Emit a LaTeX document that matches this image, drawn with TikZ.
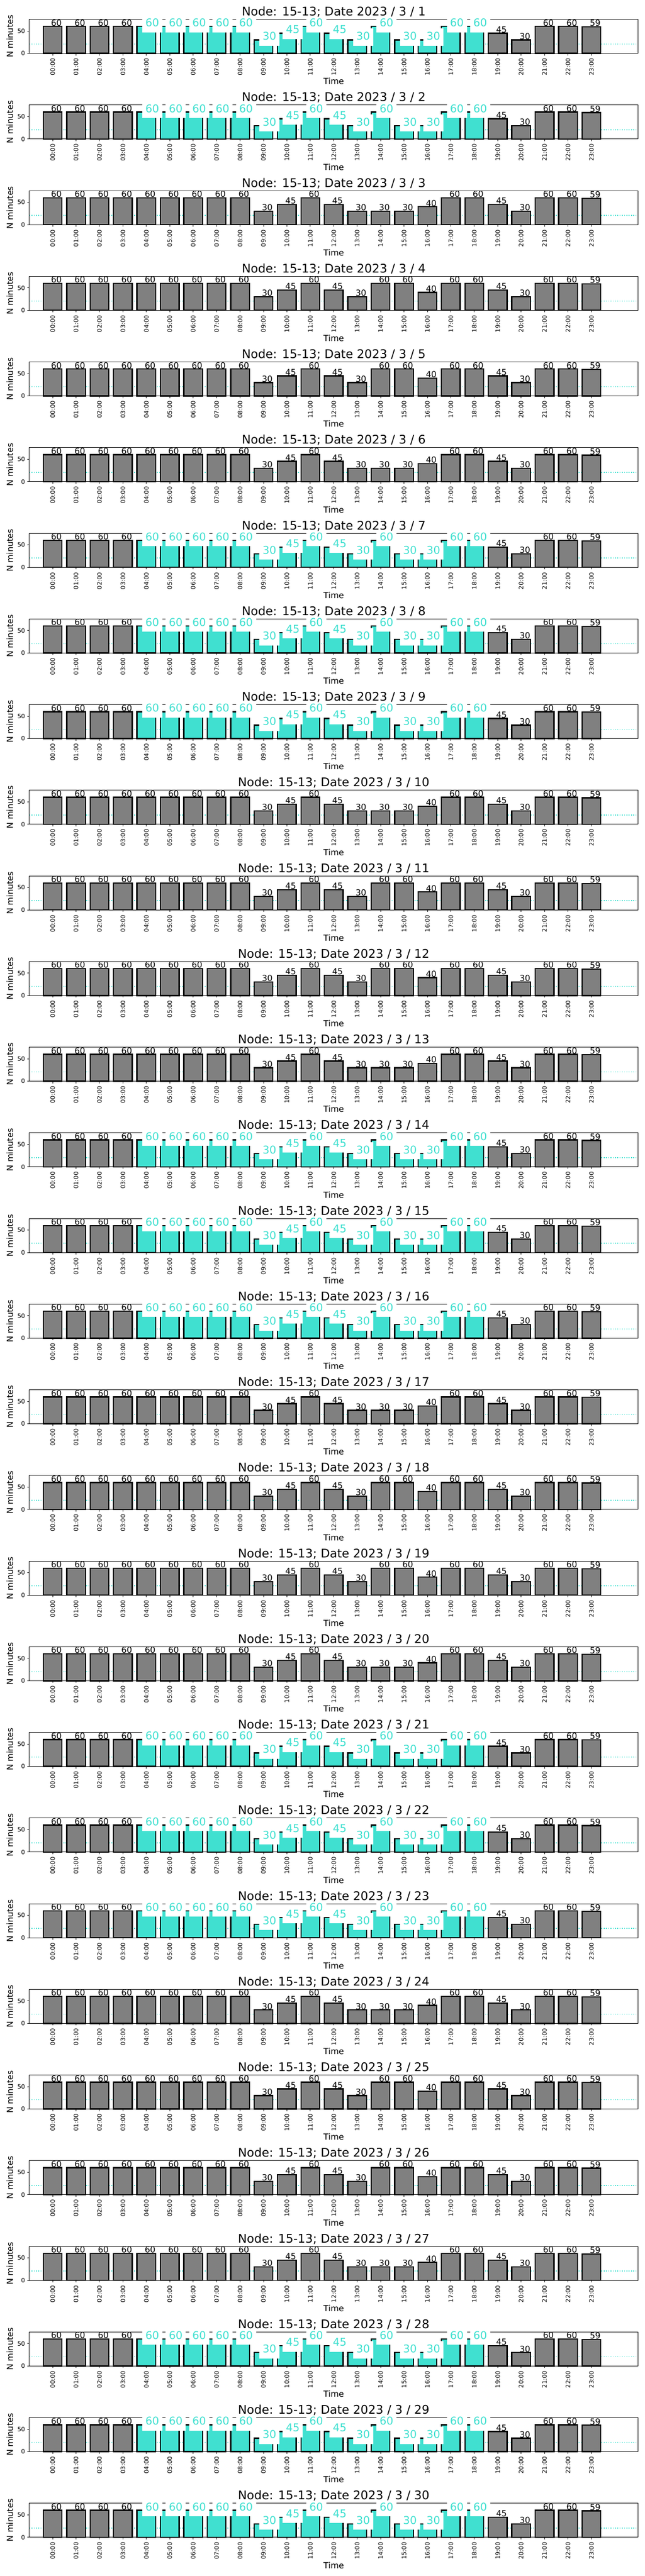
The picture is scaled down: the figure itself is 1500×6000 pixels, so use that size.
\documentclass[tikz,border=0pt]{standalone}
\usepackage{fontspec}
\setmainfont{DejaVu Sans}
\definecolor{tcol}{RGB}{64,224,208}
\definecolor{gcol}{RGB}{128,128,128}
\tikzset{every picture/.style={x=0.72bp,y=-0.72bp}}
\tikzset{barbox/.style={draw=black,line width=2bp}}
\tikzset{dotline/.style={tcol,line width=1.44bp,dash pattern=on 1.44bp off 2.38bp}}
\tikzset{axframe/.style={line width=0.8bp}}
\tikzset{tickmark/.style={line width=0.8bp}}
\tikzset{xlab/.style={rotate=90,anchor=east,inner sep=0pt,font=\fontsize{10bp}{12bp}\selectfont}}
\tikzset{ylab/.style={anchor=east,inner sep=0pt,font=\fontsize{10bp}{12bp}\selectfont}}
\tikzset{axlab/.style={anchor=base,inner sep=0pt,font=\fontsize{14bp}{16bp}\selectfont}}
\tikzset{ttl/.style={anchor=base,inner sep=0pt,font=\fontsize{20bp}{24bp}\selectfont}}
\tikzset{glabel/.style={anchor=base west,inner sep=0pt,font=\fontsize{14bp}{16bp}\selectfont}}
\tikzset{tlabel/.style={anchor=base west,fill=white,text=tcol,inner xsep=5.4bp,inner ysep=0pt,text height=19.4bp,text depth=9.4bp,font=\fontsize{18bp}{20bp}\selectfont}}

\begin{document}
\begin{tikzpicture}
\useasboundingbox (0,0) rectangle (1500,6000);
\foreach \dy in {1,...,30} {
  \pgfmathsetmacro\oy{(\dy-1)*199.5}
  \pgfmathtruncatemacro\wkd{mod(\dy,7)}
  % Tue-Thu in turquoise; 14-16 h differ by weekday
  \ifcase\wkd \def\midvals{60,30,30}\def\isbusy{1}%
  \or \def\midvals{60,30,30}\def\isbusy{1}%
  \or \def\midvals{60,30,30}\def\isbusy{1}%
  \or \def\midvals{30,30,40}\def\isbusy{0}%
  \or \def\midvals{60,60,40}\def\isbusy{0}%
  \or \def\midvals{60,60,40}\def\isbusy{0}%
  \or \def\midvals{30,30,40}\def\isbusy{0}%
  \fi
  \edef\hrvals{60,60,60,60,60,60,60,60,60,30,45,60,45,30,\midvals,60,60,45,30,60,60,59}
  \draw[dotline] (68,\oy+102.7) -- (1485.5,\oy+102.7);
  % bars and x ticks
  \foreach \val [count=\h from 0] in \hrvals {
    \pgfmathsetmacro\bx{122.5+54.52*\h}
    \pgfmathsetmacro\bt{\oy+124.3-1.045*\val}
    \pgfmathtruncatemacro\hot{\isbusy*(\h>3)*(\h<19)}
    \ifnum\hot=1 \def\bcol{tcol}\else\def\bcol{gcol}\fi
    \draw[barbox,fill=\bcol] (\bx-21.8,\oy+124.3) rectangle (\bx+21.8,\bt);
    \draw[tickmark] (\bx,\oy+124.3) -- ++(0,4.9);
    \node[xlab] (x\dy-\h) at (\bx,\oy+135.5) {\ifnum\h<10 0\fi\h:00};
  }
  \draw[axframe] (68,\oy+45) rectangle (1485.5,\oy+124.3);
  \draw[tickmark] (68,\oy+124.3) -- ++(-4.9,0);
  \draw[tickmark] (68,\oy+72.05) -- ++(-4.9,0);
  \node[ylab] (ya\dy) at (58.5,\oy+124.3) {0};
  \node[ylab] (yb\dy) at (58.5,\oy+72.05) {50};
  % value labels
  \foreach \val [count=\h from 0] in \hrvals {
    \pgfmathsetmacro\bx{122.5+54.52*\h}
    \pgfmathsetmacro\bt{\oy+124.3-1.045*\val}
    \pgfmathtruncatemacro\hot{\isbusy*(\h>3)*(\h<19)}
    \ifnum\hot=1
      \node[tlabel] (v\dy-\h) at (\bx-9.8,\bt+0.5) {\val};
    \else
      \node[glabel] (v\dy-\h) at (\bx-3.8,\bt-1.5) {\val};
    \fi
  }
  \node[ttl] (t\dy) at (776.75,\oy+36.7) {Node: 15-13; Date 2023 / 3 / \dy};
  \node[axlab] (tm\dy) at (776.75,\oy+196.7) {Time};
  \node[axlab,rotate=90] (nm\dy) at (30,\oy+84.6) {N minutes};
}
\end{tikzpicture}
\end{document}
